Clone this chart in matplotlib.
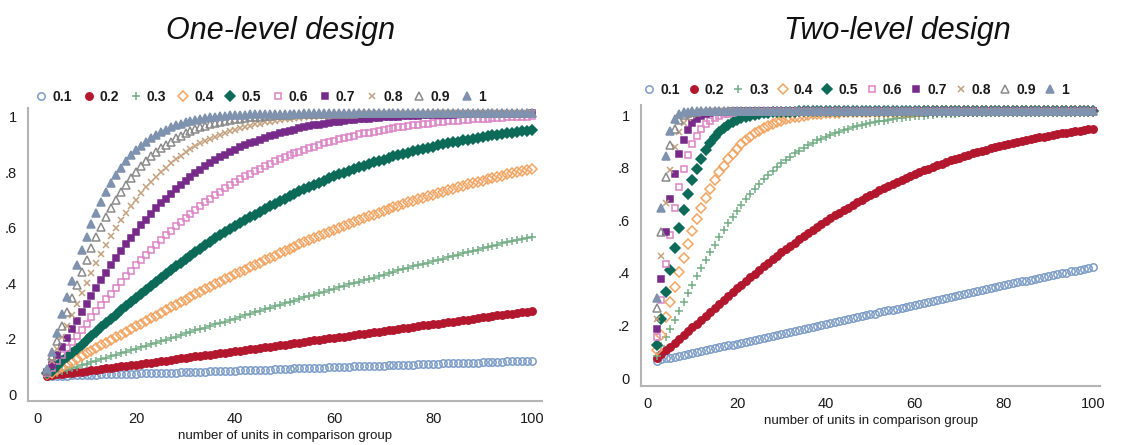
import numpy as np
import matplotlib as mpl
mpl.use('Agg')
import matplotlib.pyplot as plt
import matplotlib.transforms as mtransforms

plt.rcParams['font.family'] = ['Liberation Sans', 'DejaVu Sans']


def vals(txt):
    a = np.array(txt.split(), dtype=float)
    if len(a) != 99:
        raise ValueError('series has %d values' % len(a))
    return a


# x: number of units in comparison group (2..100)
units = list(range(2, 101))
effects = ['0.1', '0.2', '0.3', '0.4', '0.5', '0.6', '0.7', '0.8', '0.9', '1']
xticks = [0, 20, 40, 60, 80, 100]
yticks = [0, 0.2, 0.4, 0.6, 0.8, 1]
ytick_labels = ['0', '.2', '.4', '.6', '.8', '1']

# ---- one-level design (power by effect size) ----
one_01 = vals("""
.050 .051 .051 .052 .052 .053 .053 .054 .054 .055
.055 .056 .056 .057 .057 .058 .058 .059 .059 .060
.060 .061 .061 .062 .062 .063 .063 .064 .064 .065
.065 .066 .066 .067 .068 .068 .069 .069 .070 .071
.071 .072 .072 .073 .074 .074 .075 .076 .076 .077
.078 .078 .079 .080 .080 .081 .081 .082 .083 .083
.084 .084 .085 .086 .086 .087 .087 .088 .088 .089
.090 .090 .091 .091 .092 .093 .093 .094 .094 .095
.096 .096 .097 .097 .098 .098 .099 .099 .100 .101
.101 .102 .102 .103 .103 .104 .104 .105 .106
""")
one_02 = vals("""
.052 .053 .056 .058 .060 .063 .064 .066 .068 .071
.073 .076 .078 .080 .083 .085 .088 .090 .092 .095
.097 .099 .102 .104 .106 .109 .111 .114 .116 .118
.121 .123 .125 .128 .130 .133 .135 .137 .140 .142
.144 .147 .149 .152 .154 .157 .159 .161 .164 .166
.169 .171 .174 .176 .179 .181 .183 .186 .189 .191
.193 .196 .198 .201 .203 .206 .208 .211 .213 .215
.218 .220 .223 .225 .228 .230 .233 .235 .237 .240
.242 .245 .247 .249 .252 .254 .257 .259 .262 .264
.266 .269 .271 .274 .276 .278 .281 .283 .285
""")
one_03 = vals("""
.055 .058 .063 .067 .073 .079 .084 .090 .095 .100
.105 .111 .116 .121 .127 .133 .138 .143 .149 .154
.160 .165 .170 .176 .182 .187 .193 .198 .204 .209
.215 .220 .225 .231 .237 .242 .247 .253 .258 .264
.269 .274 .280 .285 .291 .296 .302 .307 .313 .318
.323 .328 .334 .339 .344 .349 .354 .360 .365 .371
.376 .381 .386 .391 .397 .401 .406 .411 .416 .422
.427 .432 .436 .441 .446 .451 .455 .460 .465 .470
.474 .479 .484 .488 .493 .498 .502 .506 .511 .515
.520 .524 .529 .533 .537 .542 .546 .550 .554
""")
one_04 = vals("""
.058 .063 .073 .083 .093 .102 .112 .122 .132 .141
.151 .161 .171 .181 .190 .200 .210 .220 .230 .240
.249 .259 .268 .278 .288 .298 .307 .317 .326 .336
.345 .354 .363 .373 .382 .390 .400 .409 .418 .427
.435 .443 .452 .460 .469 .477 .485 .494 .502 .510
.518 .526 .534 .542 .549 .556 .564 .571 .578 .586
.592 .599 .607 .613 .620 .627 .633 .640 .646 .654
.660 .666 .671 .677 .683 .689 .694 .700 .705 .711
.716 .722 .727 .732 .737 .742 .747 .752 .756 .761
.766 .770 .774 .779 .783 .787 .791 .795 .799
""")
one_05 = vals("""
.060 .070 .087 .103 .118 .134 .149 .164 .180 .196
.211 .227 .242 .257 .272 .287 .303 .318 .332 .347
.362 .376 .390 .405 .418 .432 .446 .458 .472 .485
.497 .510 .522 .535 .547 .558 .570 .581 .592 .603
.613 .624 .633 .644 .655 .664 .673 .683 .691 .700
.708 .717 .726 .734 .741 .749 .756 .764 .771 .778
.784 .790 .798 .804 .810 .816 .822 .827 .832 .838
.843 .848 .852 .857 .862 .866 .871 .875 .879 .883
.887 .891 .894 .897 .901 .904 .907 .910 .913 .916
.919 .922 .924 .927 .929 .932 .934 .936 .938
""")
one_06 = vals("""
.062 .080 .104 .128 .150 .172 .195 .217 .239 .262
.284 .306 .328 .348 .370 .390 .411 .431 .450 .469
.488 .506 .524 .542 .558 .574 .591 .606 .621 .636
.651 .665 .678 .691 .703 .715 .728 .739 .750 .761
.771 .780 .789 .799 .808 .817 .825 .833 .840 .847
.854 .860 .867 .874 .879 .885 .890 .896 .900 .905
.909 .914 .918 .923 .926 .929 .933 .936 .939 .942
.945 .948 .951 .953 .956 .958 .960 .962 .964 .966
.968 .970 .971 .972 .974 .975 .977 .978 .979 .980
.981 .982 .983 .984 .985 .985 .986 .987 .988
""")
one_07 = vals("""
.065 .092 .125 .157 .188 .219 .249 .280 .310 .340
.367 .396 .424 .450 .476 .501 .526 .550 .572 .594
.615 .635 .656 .674 .691 .708 .725 .740 .755 .770
.782 .795 .807 .819 .830 .840 .850 .859 .868 .876
.884 .891 .897 .904 .910 .916 .922 .927 .932 .936
.940 .944 .948 .952 .955 .958 .961 .964 .966 .968
.971 .973 .975 .977 .979 .980 .981 .982 .984 .985
.986 .987 .988 .989 .990 .990 .991 .991 .992 .993
.993 .994 .994 .995 .995 .996 .996 .996 .997 .997
.997 .997 .998 .998 .998 .998 .998 .998 .999
""")
one_08 = vals("""
.068 .105 .148 .191 .232 .272 .312 .350 .387 .424
.458 .492 .524 .555 .584 .612 .638 .665 .687 .710
.732 .751 .770 .787 .803 .818 .833 .845 .858 .870
.880 .890 .899 .907 .915 .922 .928 .934 .940 .945
.950 .954 .959 .962 .966 .969 .971 .974 .977 .979
.981 .982 .984 .985 .987 .988 .989 .990 .991 .992
.992 .993 .994 .995 .995 .996 .996 .997 .997 .997
.998 .998 .998 .998 .998 .998 .998 .998 .998 .999
.999 .999 .999 .999 .999 .999 .999 .999 .999 .999
.999 .999 .999 .999 .999 .999 .999 .999 .999
""")
one_09 = vals("""
.070 .121 .176 .230 .281 .331 .380 .426 .469 .512
.551 .589 .624 .656 .686 .715 .741 .766 .787 .808
.827 .843 .859 .874 .886 .897 .908 .918 .926 .934
.941 .948 .953 .959 .963 .967 .971 .974 .977 .980
.982 .984 .986 .987 .989 .990 .991 .992 .993 .994
.995 .995 .996 .996 .997 .997 .997 .998 .998 .998
.998 .998 .998 .999 .999 .999 .999 .999 .999 .999
.999 .999 .999 .999 .999 .999 .999 .999 .999 .999
1 1 1 1 1 1 1 1 1 1
1 1 1 1 1 1 1 1 1
""")
one_10 = vals("""
.075 .138 .207 .273 .336 .395 .452 .504 .554 .600
.640 .680 .715 .747 .776 .802 .826 .847 .866 .882
.897 .910 .922 .932 .940 .948 .956 .961 .967 .971
.975 .979 .981 .984 .986 .988 .990 .991 .992 .993
.994 .995 .995 .996 .996 .997 .997 .998 .998 .998
.998 .998 .999 .999 .999 .999 .999 .999 .999 .999
1 1 1 1 1 1 1 1 1 1
1 1 1 1 1 1 1 1 1 1
1 1 1 1 1 1 1 1 1 1
1 1 1 1 1 1 1 1 1
""")

# ---- two-level design ----
two_01 = vals("""
.050 .056 .060 .062 .065 .068 .072 .076 .080 .083
.087 .090 .094 .098 .101 .105 .109 .112 .116 .119
.123 .127 .131 .134 .138 .141 .145 .148 .152 .156
.159 .163 .167 .171 .175 .178 .182 .186 .189 .193
.197 .200 .204 .208 .212 .215 .219 .223 .227 .230
.234 .238 .242 .245 .249 .252 .256 .260 .264 .267
.271 .275 .279 .282 .286 .290 .293 .297 .301 .305
.308 .312 .316 .319 .323 .326 .330 .333 .337 .341
.345 .348 .352 .355 .358 .362 .365 .369 .372 .376
.379 .383 .386 .390 .393 .396 .400 .403 .407
""")
two_02 = vals("""
.060 .075 .090 .104 .117 .132 .147 .162 .177 .192
.207 .222 .237 .251 .267 .282 .296 .312 .326 .340
.354 .368 .382 .397 .410 .423 .437 .450 .463 .476
.488 .500 .512 .525 .537 .548 .560 .571 .582 .593
.603 .613 .623 .633 .643 .654 .663 .672 .681 .690
.698 .706 .715 .723 .731 .739 .746 .754 .761 .768
.774 .781 .788 .794 .800 .806 .812 .818 .823 .829
.834 .839 .844 .849 .853 .858 .862 .867 .871 .876
.879 .883 .887 .891 .894 .897 .900 .903 .906 .909
.912 .915 .918 .921 .924 .926 .929 .931 .933
""")
two_03 = vals("""
.070 .105 .140 .172 .206 .240 .274 .307 .340 .373
.404 .435 .465 .492 .521 .547 .573 .597 .620 .643
.666 .686 .704 .723 .740 .757 .773 .787 .801 .815
.827 .839 .849 .860 .870 .879 .888 .895 .902 .909
.916 .922 .927 .933 .938 .942 .947 .951 .955 .958
.961 .964 .967 .970 .972 .974 .976 .979 .980 .981
.983 .984 .985 .987 .988 .989 .990 .990 .991 .992
.992 .993 .994 .994 .995 .995 .996 .996 .996 .997
.997 .997 .997 .997 .997 .997 .998 .998 .998 .998
.998 .998 .998 .998 .998 .998 .998 .998 .998
""")
two_04 = vals("""
.090 .150 .215 .275 .332 .388 .443 .494 .544 .589
.630 .670 .705 .737 .767 .792 .817 .838 .857 .875
.890 .903 .915 .926 .935 .943 .951 .957 .963 .968
.972 .976 .979 .982 .985 .987 .988 .990 .991 .992
.993 .994 .995 .995 .996 .996 .997 .997 .997 .998
.998 .998 .998 .998 .998 .998 .998 .998 .998 .998
.999 .999 .999 .999 .999 .999 .999 .999 .999 .999
1 1 1 1 1 1 1 1 1 1
1 1 1 1 1 1 1 1 1 1
1 1 1 1 1 1 1 1 1
""")
two_05 = vals("""
.110 .210 .310 .395 .478 .554 .623 .683 .736 .781
.819 .851 .879 .900 .920 .935 .948 .958 .966 .973
.979 .983 .986 .989 .991 .993 .995 .996 .997 .997
.998 .998 .999 .999 .999 .999 .999 .999 .999 1
1 1 1 1 1 1 1 1 1 1
1 1 1 1 1 1 1 1 1 1
1 1 1 1 1 1 1 1 1 1
1 1 1 1 1 1 1 1 1 1
1 1 1 1 1 1 1 1 1 1
1 1 1 1 1 1 1 1 1
""")
two_06 = vals("""
.140 .280 .420 .530 .630 .711 .780 .833 .875 .907
.931 .950 .964 .974 .981 .987 .990 .993 .995 .996
.997 .998 .998 .999 .999 .999 .999 .999 .999 1
1 1 1 1 1 1 1 1 1 1
1 1 1 1 1 1 1 1 1 1
1 1 1 1 1 1 1 1 1 1
1 1 1 1 1 1 1 1 1 1
1 1 1 1 1 1 1 1 1 1
1 1 1 1 1 1 1 1 1 1
1 1 1 1 1 1 1 1 1
""")
two_07 = vals("""
.170 .360 .540 .665 .762 .835 .891 .927 .953 .970
.981 .988 .992 .995 .997 .998 .998 .999 .999 .999
1 1 1 1 1 1 1 1 1 1
1 1 1 1 1 1 1 1 1 1
1 1 1 1 1 1 1 1 1 1
1 1 1 1 1 1 1 1 1 1
1 1 1 1 1 1 1 1 1 1
1 1 1 1 1 1 1 1 1 1
1 1 1 1 1 1 1 1 1 1
1 1 1 1 1 1 1 1 1
""")
two_08 = vals("""
.210 .450 .650 .775 .864 .919 .955 .974 .986 .992
.996 .997 .998 .999 .999 .999 .999 .999 .999 1
1 1 1 1 1 1 1 1 1 1
1 1 1 1 1 1 1 1 1 1
1 1 1 1 1 1 1 1 1 1
1 1 1 1 1 1 1 1 1 1
1 1 1 1 1 1 1 1 1 1
1 1 1 1 1 1 1 1 1 1
1 1 1 1 1 1 1 1 1 1
1 1 1 1 1 1 1 1 1
""")
two_09 = vals("""
.250 .540 .750 .870 .930 .966 .984 .992 .997 .998
.999 .999 .999 .999 1 1 1 1 1 1
1 1 1 1 1 1 1 1 1 1
1 1 1 1 1 1 1 1 1 1
1 1 1 1 1 1 1 1 1 1
1 1 1 1 1 1 1 1 1 1
1 1 1 1 1 1 1 1 1 1
1 1 1 1 1 1 1 1 1 1
1 1 1 1 1 1 1 1 1 1
1 1 1 1 1 1 1 1 1
""")
two_10 = vals("""
.290 .630 .830 .925 .968 .987 .995 .998 .999 .999
1 1 1 1 1 1 1 1 1 1
1 1 1 1 1 1 1 1 1 1
1 1 1 1 1 1 1 1 1 1
1 1 1 1 1 1 1 1 1 1
1 1 1 1 1 1 1 1 1 1
1 1 1 1 1 1 1 1 1 1
1 1 1 1 1 1 1 1 1 1
1 1 1 1 1 1 1 1 1 1
1 1 1 1 1 1 1 1 1
""")

one_level = [one_01, one_02, one_03, one_04, one_05,
             one_06, one_07, one_08, one_09, one_10]
two_level = [two_01, two_02, two_03, two_04, two_05,
             two_06, two_07, two_08, two_09, two_10]

# marker, colour, filled, size
styles = [
    ('o', '#7c9cc8', False, 5.3),
    ('o', '#b3172d', True, 5.3),
    ('+', '#73ad84', True, 5.8),
    ('D', '#f2a461', False, 4.9),
    ('D', '#0c6a58', True, 4.9),
    ('s', '#dc84c6', False, 5.0),
    ('s', '#772a8a', True, 5.0),
    ('x', '#c4a07c', True, 4.0),
    ('^', '#8a8a8a', False, 5.8),
    ('^', '#7f92ae', True, 5.8),
]

W, H = 1132, 445
fig = plt.figure(figsize=(W / 100, H / 100), dpi=100)


def panel(box, series, xlim, ylim, leg_xy, colspace):
    ax = fig.add_axes([box[0] / W, 1 - box[3] / H,
                       (box[2] - box[0]) / W, (box[3] - box[1]) / H])
    handles = []
    for vals_, (m, c, filled, ms), lab in zip(series, styles, effects):
        h, = ax.plot(units, vals_, linestyle='none', marker=m, ms=ms,
                     mfc=c if filled else 'none', mec=c, mew=1.1, label=lab)
        handles.append(h)
    ax.set_xlim(*xlim)
    ax.set_ylim(*ylim)
    ax.set_xticks(xticks)
    ax.set_yticks(yticks)
    ax.set_yticklabels(ytick_labels)
    ax.tick_params(length=0, labelsize=10.5, colors='#1a1a1a')
    ax.tick_params(axis='y', pad=8)
    ax.tick_params(axis='x', pad=8)
    # tick labels sit a few px below their gridline position in the original
    off = mtransforms.ScaledTranslation(0, -0.04, fig.dpi_scale_trans)
    for t in ax.get_yticklabels():
        t.set_transform(t.get_transform() + off)
    for s in ['top', 'right']:
        ax.spines[s].set_visible(False)
    for s in ['left', 'bottom']:
        ax.spines[s].set_color('#b4b4b4')
        ax.spines[s].set_linewidth(1.5)
    ax.set_xlabel('number of units in comparison group', fontsize=9.5,
                  labelpad=3, color='#1a1a1a')
    leg = ax.legend(handles=handles, loc='center left',
                    bbox_to_anchor=(leg_xy[0] / W, 1 - leg_xy[1] / H),
                    bbox_transform=fig.transFigure, ncol=10, frameon=False,
                    handlelength=0.9, handletextpad=0.35,
                    columnspacing=colspace, borderpad=0, borderaxespad=0,
                    prop={'size': 10, 'weight': 'bold'})
    for t in leg.get_texts():
        t.set_color('#1a1a1a')
    return ax


ax1 = panel((28, 108, 542, 401), one_level, (-1.82, 102.0),
            (-0.0397, 1.018), (35, 97), 0.75)
ax2 = panel((641, 105, 1100, 386), two_level, (-1.57, 101.6),
            (-0.0456, 1.023), (643, 90), 0.55)

fig.text(281 / W, 1 - 31 / H, 'One-level design', ha='center', va='center',
         fontsize=22, style='italic', color='#111111')
fig.text(897 / W, 1 - 31 / H, 'Two-level design', ha='center', va='center',
         fontsize=22, style='italic', color='#111111')

fig.savefig('out.png', dpi=100)
